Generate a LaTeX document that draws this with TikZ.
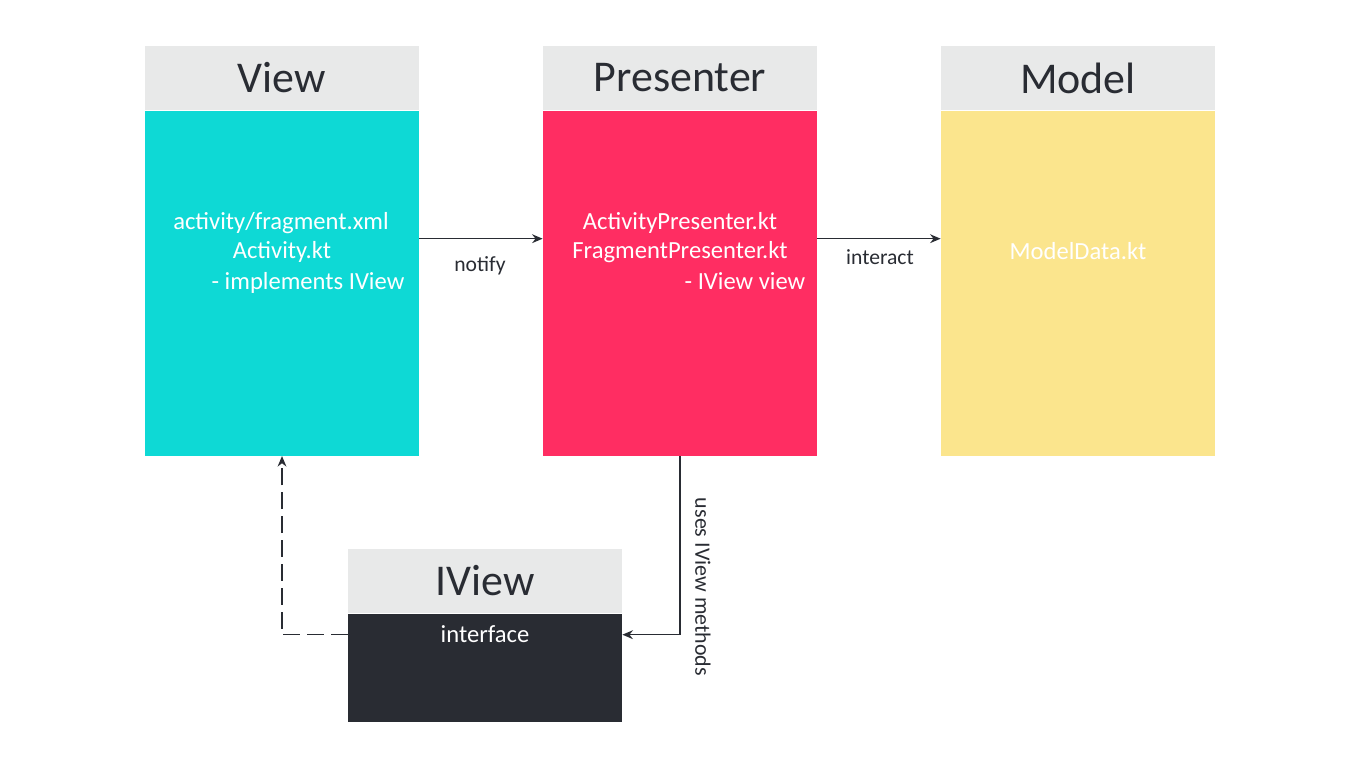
\documentclass[tikz,border=0pt]{standalone}
\usepackage{fontspec}
\setmainfont{Carlito}
\usetikzlibrary{arrows.meta,positioning}
\definecolor{headc}{HTML}{E8E9E9}
\definecolor{darkc}{HTML}{292C33}
\definecolor{viewc}{HTML}{0ED9D5}
\definecolor{presc}{HTML}{FF2D62}
\definecolor{modelc}{HTML}{FBE58D}
\begin{document}
\begin{tikzpicture}[font=\fontsize{14}{17}\selectfont,
  head/.style={fill=headc, text=darkc, minimum width=5.48cm, minimum height=1.28cm,
    inner sep=0pt, font=\fontsize{25}{30}\selectfont},
  body/.style={minimum width=5.48cm, minimum height=6.9cm, inner sep=0pt},
  txt/.style={text=white, anchor=base},
  lbl/.style={text=darkc, anchor=base, font=\fontsize{12.3}{15}\selectfont},
  arr/.style={draw=darkc, line width=0.9pt, -{Stealth[length=6pt,width=5pt]}}]
  \useasboundingbox (0,0) rectangle (27.3,15.36);
  % view
  \node[head] (vh) at (5.64,13.8) {View};
  \node[body, fill=viewc, below=0pt of vh] (vb) {};
  \node[txt] (v1) at (5.62,10.76) {activity/fragment.xml};
  \node[txt] (v2) at (5.64,10.18) {Activity.kt};
  \node[txt] (v3) at (6.16,9.56) {- implements IView};
  % presenter
  \node[head] (ph) at (13.6,13.8) {Presenter};
  \node[body, fill=presc, below=0pt of ph] (pb) {};
  \node[txt] (p1) at (13.6,10.76) {ActivityPresenter.kt};
  \node[txt] (p2) at (13.6,10.18) {FragmentPresenter.kt};
  \node[txt] (p3) at (14.9,9.56) {- IView view};
  % model
  \node[head] (mh) at (21.56,13.8) {Model};
  \node[body, fill=modelc, below=0pt of mh] (mb) {};
  \node[txt] (m1) at (21.56,10.16) {ModelData.kt};
  % interface
  \node[head] (ih) at (9.7,3.74) {IView};
  \node[minimum width=5.48cm, minimum height=2.16cm, inner sep=0pt, fill=darkc,
    below=0pt of ih] (ib) {};
  \node[txt] (i1) at (9.7,2.5) {interface};
  % links
  \draw[arr] ([yshift=0.89cm]vb.east) -- ([yshift=0.89cm]pb.west);
  \node[lbl] (n1) at (9.6,9.92) {notify};
  \draw[arr] ([yshift=0.89cm]pb.east) -- ([yshift=0.89cm]mb.west);
  \node[lbl] (n2) at (17.6,10.06) {interact};
  \draw[arr] (pb.south) |- ([yshift=0.66cm]ib.east);
  \node[lbl, anchor=center, rotate=-90, font=\fontsize{12.5}{15}\selectfont] (n3)
    at (14.06,3.62) {uses IView methods};
  \draw[arr, dash pattern=on 9.6pt off 4pt] ([yshift=0.66cm]ib.west) -| (vb.south);
\end{tikzpicture}
\end{document}
